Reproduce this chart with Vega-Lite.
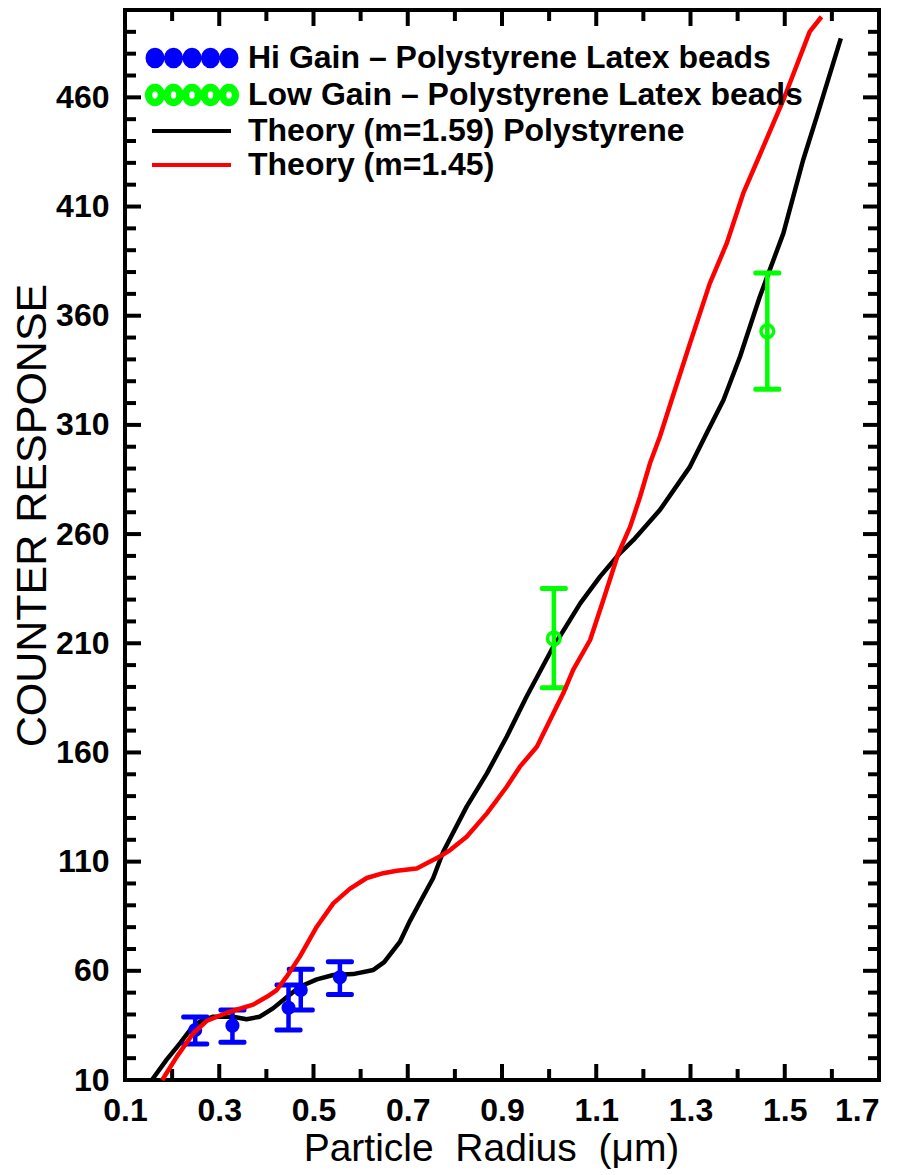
{
  "$schema": "https://vega.github.io/schema/vega-lite/v6.json",
  "width": 754,
  "height": 1070,
  "autosize": {"type": "none"},
  "padding": {"left": 125, "top": 10, "right": 20, "bottom": 95},
  "background": "white",
  "config": {
    "view": {"stroke": "#000000", "strokeWidth": 4},
    "axis": {"domain": false, "grid": false, "ticks": false, "tickSize": 0, "labelFont": "Liberation Sans", "titleFont": "Liberation Sans", "labelColor": "#000000", "titleColor": "#000000"}
  },
  "datasets": {
    "xmajor": [{"v": 0.1}, {"v": 0.3}, {"v": 0.5}, {"v": 0.7}, {"v": 0.9}, {"v": 1.1}, {"v": 1.3}, {"v": 1.5}, {"v": 1.7}],
    "xminor": [{"v": 0.2}, {"v": 0.4}, {"v": 0.6}, {"v": 0.8}, {"v": 1.0}, {"v": 1.2}, {"v": 1.4}, {"v": 1.6}],
    "ymajor": [{"v": 10}, {"v": 60}, {"v": 110}, {"v": 160}, {"v": 210}, {"v": 260}, {"v": 310}, {"v": 360}, {"v": 410}, {"v": 460}],
    "yminor": [{"v": 20}, {"v": 30}, {"v": 40}, {"v": 50}, {"v": 70}, {"v": 80}, {"v": 90}, {"v": 100}, {"v": 120}, {"v": 130}, {"v": 140}, {"v": 150}, {"v": 170}, {"v": 180}, {"v": 190}, {"v": 200}, {"v": 220}, {"v": 230}, {"v": 240}, {"v": 250}, {"v": 270}, {"v": 280}, {"v": 290}, {"v": 300}, {"v": 320}, {"v": 330}, {"v": 340}, {"v": 350}, {"v": 370}, {"v": 380}, {"v": 390}, {"v": 400}, {"v": 420}, {"v": 430}, {"v": 440}, {"v": 450}, {"v": 470}, {"v": 480}, {"v": 490}],
    "black": [
      {"radius": 0.157, "response": 10.0, "series": "Theory (m=1.59) Polystyrene"},
      {"radius": 0.188, "response": 19.2, "series": "Theory (m=1.59) Polystyrene"},
      {"radius": 0.217, "response": 26.9, "series": "Theory (m=1.59) Polystyrene"},
      {"radius": 0.238, "response": 32.9, "series": "Theory (m=1.59) Polystyrene"},
      {"radius": 0.259, "response": 36.7, "series": "Theory (m=1.59) Polystyrene"},
      {"radius": 0.287, "response": 39.0, "series": "Theory (m=1.59) Polystyrene"},
      {"radius": 0.329, "response": 39.0, "series": "Theory (m=1.59) Polystyrene"},
      {"radius": 0.358, "response": 37.8, "series": "Theory (m=1.59) Polystyrene"},
      {"radius": 0.386, "response": 39.0, "series": "Theory (m=1.59) Polystyrene"},
      {"radius": 0.414, "response": 42.8, "series": "Theory (m=1.59) Polystyrene"},
      {"radius": 0.443, "response": 47.9, "series": "Theory (m=1.59) Polystyrene"},
      {"radius": 0.471, "response": 52.7, "series": "Theory (m=1.59) Polystyrene"},
      {"radius": 0.507, "response": 56.1, "series": "Theory (m=1.59) Polystyrene"},
      {"radius": 0.542, "response": 58.1, "series": "Theory (m=1.59) Polystyrene"},
      {"radius": 0.584, "response": 58.5, "series": "Theory (m=1.59) Polystyrene"},
      {"radius": 0.627, "response": 60.4, "series": "Theory (m=1.59) Polystyrene"},
      {"radius": 0.650, "response": 64.0, "series": "Theory (m=1.59) Polystyrene"},
      {"radius": 0.684, "response": 73.5, "series": "Theory (m=1.59) Polystyrene"},
      {"radius": 0.705, "response": 83.0, "series": "Theory (m=1.59) Polystyrene"},
      {"radius": 0.730, "response": 93.0, "series": "Theory (m=1.59) Polystyrene"},
      {"radius": 0.754, "response": 102.5, "series": "Theory (m=1.59) Polystyrene"},
      {"radius": 0.775, "response": 114.4, "series": "Theory (m=1.59) Polystyrene"},
      {"radius": 0.825, "response": 135.2, "series": "Theory (m=1.59) Polystyrene"},
      {"radius": 0.868, "response": 150.4, "series": "Theory (m=1.59) Polystyrene"},
      {"radius": 0.910, "response": 167.2, "series": "Theory (m=1.59) Polystyrene"},
      {"radius": 0.952, "response": 185.5, "series": "Theory (m=1.59) Polystyrene"},
      {"radius": 1.005, "response": 206.9, "series": "Theory (m=1.59) Polystyrene"},
      {"radius": 1.066, "response": 228.3, "series": "Theory (m=1.59) Polystyrene"},
      {"radius": 1.108, "response": 240.5, "series": "Theory (m=1.59) Polystyrene"},
      {"radius": 1.150, "response": 251.2, "series": "Theory (m=1.59) Polystyrene"},
      {"radius": 1.179, "response": 257.3, "series": "Theory (m=1.59) Polystyrene"},
      {"radius": 1.235, "response": 271.0, "series": "Theory (m=1.59) Polystyrene"},
      {"radius": 1.299, "response": 290.9, "series": "Theory (m=1.59) Polystyrene"},
      {"radius": 1.334, "response": 306.1, "series": "Theory (m=1.59) Polystyrene"},
      {"radius": 1.370, "response": 321.4, "series": "Theory (m=1.59) Polystyrene"},
      {"radius": 1.405, "response": 341.2, "series": "Theory (m=1.59) Polystyrene"},
      {"radius": 1.447, "response": 368.7, "series": "Theory (m=1.59) Polystyrene"},
      {"radius": 1.497, "response": 397.7, "series": "Theory (m=1.59) Polystyrene"},
      {"radius": 1.539, "response": 431.3, "series": "Theory (m=1.59) Polystyrene"},
      {"radius": 1.568, "response": 451.2, "series": "Theory (m=1.59) Polystyrene"},
      {"radius": 1.619, "response": 487.0, "series": "Theory (m=1.59) Polystyrene"}
    ],
    "red": [
      {"radius": 0.179, "response": 10.0, "series": "Theory (m=1.45)"},
      {"radius": 0.210, "response": 20.7, "series": "Theory (m=1.45)"},
      {"radius": 0.245, "response": 31.4, "series": "Theory (m=1.45)"},
      {"radius": 0.273, "response": 37.0, "series": "Theory (m=1.45)"},
      {"radius": 0.316, "response": 40.8, "series": "Theory (m=1.45)"},
      {"radius": 0.372, "response": 44.5, "series": "Theory (m=1.45)"},
      {"radius": 0.401, "response": 48.1, "series": "Theory (m=1.45)"},
      {"radius": 0.422, "response": 51.2, "series": "Theory (m=1.45)"},
      {"radius": 0.443, "response": 57.3, "series": "Theory (m=1.45)"},
      {"radius": 0.471, "response": 66.5, "series": "Theory (m=1.45)"},
      {"radius": 0.507, "response": 80.2, "series": "Theory (m=1.45)"},
      {"radius": 0.542, "response": 90.9, "series": "Theory (m=1.45)"},
      {"radius": 0.577, "response": 97.5, "series": "Theory (m=1.45)"},
      {"radius": 0.613, "response": 102.5, "series": "Theory (m=1.45)"},
      {"radius": 0.648, "response": 104.7, "series": "Theory (m=1.45)"},
      {"radius": 0.677, "response": 105.8, "series": "Theory (m=1.45)"},
      {"radius": 0.719, "response": 106.9, "series": "Theory (m=1.45)"},
      {"radius": 0.768, "response": 112.3, "series": "Theory (m=1.45)"},
      {"radius": 0.790, "response": 115.3, "series": "Theory (m=1.45)"},
      {"radius": 0.825, "response": 121.4, "series": "Theory (m=1.45)"},
      {"radius": 0.868, "response": 132.1, "series": "Theory (m=1.45)"},
      {"radius": 0.910, "response": 144.3, "series": "Theory (m=1.45)"},
      {"radius": 0.938, "response": 153.5, "series": "Theory (m=1.45)"},
      {"radius": 0.974, "response": 162.6, "series": "Theory (m=1.45)"},
      {"radius": 1.009, "response": 177.9, "series": "Theory (m=1.45)"},
      {"radius": 1.030, "response": 187.1, "series": "Theory (m=1.45)"},
      {"radius": 1.051, "response": 197.8, "series": "Theory (m=1.45)"},
      {"radius": 1.087, "response": 211.5, "series": "Theory (m=1.45)"},
      {"radius": 1.115, "response": 229.8, "series": "Theory (m=1.45)"},
      {"radius": 1.147, "response": 251.2, "series": "Theory (m=1.45)"},
      {"radius": 1.172, "response": 263.4, "series": "Theory (m=1.45)"},
      {"radius": 1.193, "response": 277.1, "series": "Theory (m=1.45)"},
      {"radius": 1.214, "response": 292.4, "series": "Theory (m=1.45)"},
      {"radius": 1.235, "response": 304.6, "series": "Theory (m=1.45)"},
      {"radius": 1.260, "response": 321.4, "series": "Theory (m=1.45)"},
      {"radius": 1.299, "response": 347.4, "series": "Theory (m=1.45)"},
      {"radius": 1.341, "response": 374.8, "series": "Theory (m=1.45)"},
      {"radius": 1.377, "response": 393.2, "series": "Theory (m=1.45)"},
      {"radius": 1.412, "response": 416.1, "series": "Theory (m=1.45)"},
      {"radius": 1.447, "response": 433.6, "series": "Theory (m=1.45)"},
      {"radius": 1.497, "response": 458.8, "series": "Theory (m=1.45)"},
      {"radius": 1.553, "response": 490.1, "series": "Theory (m=1.45)"},
      {"radius": 1.578, "response": 496.9, "series": "Theory (m=1.45)"}
    ],
    "obs": [
      {"radius": 0.249, "response": 32.9, "lo": 26.5, "hi": 38.8, "gain": "Hi", "series": "Hi Gain – Polystyrene Latex beads"},
      {"radius": 0.328, "response": 34.9, "lo": 27.3, "hi": 42.0, "gain": "Hi", "series": "Hi Gain – Polystyrene Latex beads"},
      {"radius": 0.447, "response": 43.1, "lo": 32.9, "hi": 53.5, "gain": "Hi", "series": "Hi Gain – Polystyrene Latex beads"},
      {"radius": 0.473, "response": 51.2, "lo": 42.0, "hi": 60.7, "gain": "Hi", "series": "Hi Gain – Polystyrene Latex beads"},
      {"radius": 0.556, "response": 57.0, "lo": 49.2, "hi": 64.2, "gain": "Hi", "series": "Hi Gain – Polystyrene Latex beads"},
      {"radius": 1.010, "response": 212.2, "lo": 189.6, "hi": 235.1, "gain": "Low", "series": "Low Gain – Polystyrene Latex beads"},
      {"radius": 1.463, "response": 352.9, "lo": 326.3, "hi": 379.6, "gain": "Low", "series": "Low Gain – Polystyrene Latex beads"}
    ]
  },
  "layer": [
    {
      "data": {"name": "black"},
      "mark": {"type": "line", "strokeWidth": 4.5, "strokeJoin": "round"},
      "encoding": {
        "x": {"field": "radius", "type": "quantitative",
          "scale": {"domain": [0.1, 1.7], "nice": false, "zero": false},
          "axis": {"orient": "bottom", "values": [0.1, 0.3, 0.5, 0.7, 0.9, 1.1, 1.3, 1.5, 1.7], "format": ".1f", "labelPadding": 15, "labelFontSize": 32, "labelFontWeight": "bold", "labelFlush": false, "labelOverlap": false, "labelAlign": {"condition": {"test": "datum.value > 1.65", "value": "right"}, "value": "center"}, "title": "Particle\u00a0\u00a0Radius\u00a0\u00a0(μm)", "titleFontSize": 39, "titleFontWeight": "normal", "titleX": 366, "titleY": 80, "titleBaseline": "alphabetic"}},
        "y": {"field": "response", "type": "quantitative",
          "scale": {"domain": [10, 500], "nice": false, "zero": false},
          "axis": {"orient": "left", "values": [10, 60, 110, 160, 210, 260, 310, 360, 410, 460], "format": "d", "labelPadding": 16, "labelFontSize": 32, "labelFontWeight": "bold", "labelOverlap": false, "title": "COUNTER RESPONSE", "titleFontSize": 43, "titleFontWeight": "normal", "titleX": -80, "titleY": 505, "titleBaseline": "alphabetic"}},
        "color": {"field": "series", "type": "nominal",
          "scale": {"domain": ["Hi Gain – Polystyrene Latex beads", "Low Gain – Polystyrene Latex beads", "Theory (m=1.59) Polystyrene", "Theory (m=1.45)"], "range": ["#0000ff", "#00ff00", "#000000", "#ff0000"]},
          "legend": {"orient": "none", "legendX": 16, "legendY": 32, "title": null, "symbolSize": 400, "symbolOffset": 0, "symbolStrokeWidth": 4, "labelFont": "Liberation Sans", "labelFontSize": 32, "labelFontWeight": "bold", "labelColor": "#000000", "labelLimit": 800, "labelOffset": 75, "rowPadding": 2,
            "encode": {"symbols": {"update": {
              "shape": {"signal": "['M-0.95,0A0.75,0.83 0 1 1 0.55,0A0.75,0.83 0 1 1 -0.95,0Z M0.9,0A0.75,0.83 0 1 1 2.4,0A0.75,0.83 0 1 1 0.9,0Z M2.75,0A0.75,0.83 0 1 1 4.25,0A0.75,0.83 0 1 1 2.75,0Z M4.6,0A0.75,0.83 0 1 1 6.1,0A0.75,0.83 0 1 1 4.6,0Z M6.45,0A0.75,0.83 0 1 1 7.95,0A0.75,0.83 0 1 1 6.45,0Z', 'M-1.02,0A0.82,0.92 0 1 1 0.62,0A0.82,0.92 0 1 1 -1.02,0Z M-0.67,0A0.47,0.57 0 1 0 0.27,0A0.47,0.57 0 1 0 -0.67,0Z M0.83,0A0.82,0.92 0 1 1 2.47,0A0.82,0.92 0 1 1 0.83,0Z M1.18,0A0.47,0.57 0 1 0 2.12,0A0.47,0.57 0 1 0 1.18,0Z M2.68,0A0.82,0.92 0 1 1 4.32,0A0.82,0.92 0 1 1 2.68,0Z M3.03,0A0.47,0.57 0 1 0 3.97,0A0.47,0.57 0 1 0 3.03,0Z M4.53,0A0.82,0.92 0 1 1 6.17,0A0.82,0.92 0 1 1 4.53,0Z M4.88,0A0.47,0.57 0 1 0 5.82,0A0.47,0.57 0 1 0 4.88,0Z M6.38,0A0.82,0.92 0 1 1 8.02,0A0.82,0.92 0 1 1 6.38,0Z M6.73,0A0.47,0.57 0 1 0 7.67,0A0.47,0.57 0 1 0 6.73,0Z', 'M-0.5,0L7.4,0', 'M-0.5,0L7.4,0'][datum.index]"},
              "fill": {"signal": "['#0000ff', '#00ff00', 'transparent', 'transparent'][datum.index]"},
              "stroke": {"signal": "['transparent', 'transparent', '#000000', '#ff0000'][datum.index]"},
              "strokeWidth": {"value": 4},
              "size": {"value": 400},
              "opacity": {"value": 1}
            }}}}
        }
      }
    },
    {
      "data": {"name": "xmajor"},
      "mark": {"type": "tick", "orient": "vertical", "size": 16, "thickness": 4, "yOffset": -8, "color": "#000000", "opacity": 1},
      "encoding": {"x": {"field": "v", "type": "quantitative"}, "y": {"datum": 10, "type": "quantitative"}}
    },
    {
      "data": {"name": "xmajor"},
      "mark": {"type": "tick", "orient": "vertical", "size": 16, "thickness": 4, "yOffset": 8, "color": "#000000", "opacity": 1},
      "encoding": {"x": {"field": "v", "type": "quantitative"}, "y": {"datum": 500, "type": "quantitative"}}
    },
    {
      "data": {"name": "xminor"},
      "mark": {"type": "tick", "orient": "vertical", "size": 11, "thickness": 4, "yOffset": -5.5, "color": "#000000", "opacity": 1},
      "encoding": {"x": {"field": "v", "type": "quantitative"}, "y": {"datum": 10, "type": "quantitative"}}
    },
    {
      "data": {"name": "xminor"},
      "mark": {"type": "tick", "orient": "vertical", "size": 11, "thickness": 4, "yOffset": 5.5, "color": "#000000", "opacity": 1},
      "encoding": {"x": {"field": "v", "type": "quantitative"}, "y": {"datum": 500, "type": "quantitative"}}
    },
    {
      "data": {"name": "ymajor"},
      "mark": {"type": "tick", "orient": "horizontal", "size": 16, "thickness": 4, "xOffset": 8, "color": "#000000", "opacity": 1},
      "encoding": {"y": {"field": "v", "type": "quantitative"}, "x": {"datum": 0.1, "type": "quantitative"}}
    },
    {
      "data": {"name": "ymajor"},
      "mark": {"type": "tick", "orient": "horizontal", "size": 16, "thickness": 4, "xOffset": -8, "color": "#000000", "opacity": 1},
      "encoding": {"y": {"field": "v", "type": "quantitative"}, "x": {"datum": 1.7, "type": "quantitative"}}
    },
    {
      "data": {"name": "yminor"},
      "mark": {"type": "tick", "orient": "horizontal", "size": 11, "thickness": 4, "xOffset": 5.5, "color": "#000000", "opacity": 1},
      "encoding": {"y": {"field": "v", "type": "quantitative"}, "x": {"datum": 0.1, "type": "quantitative"}}
    },
    {
      "data": {"name": "yminor"},
      "mark": {"type": "tick", "orient": "horizontal", "size": 11, "thickness": 4, "xOffset": -5.5, "color": "#000000", "opacity": 1},
      "encoding": {"y": {"field": "v", "type": "quantitative"}, "x": {"datum": 1.7, "type": "quantitative"}}
    },
    {
      "data": {"name": "obs"},
      "mark": {"type": "rule", "strokeWidth": 4.5},
      "encoding": {
        "x": {"field": "radius", "type": "quantitative"},
        "y": {"field": "lo", "type": "quantitative"},
        "y2": {"field": "hi"},
        "color": {"field": "series", "type": "nominal", "legend": null}
      }
    },
    {
      "data": {"name": "obs"},
      "mark": {"type": "tick", "orient": "horizontal", "size": 28, "thickness": 5, "opacity": 1, "cornerRadius": 2},
      "encoding": {
        "x": {"field": "radius", "type": "quantitative"},
        "y": {"field": "lo", "type": "quantitative"},
        "color": {"field": "series", "type": "nominal", "legend": null}
      }
    },
    {
      "data": {"name": "obs"},
      "mark": {"type": "tick", "orient": "horizontal", "size": 28, "thickness": 5, "opacity": 1, "cornerRadius": 2},
      "encoding": {
        "x": {"field": "radius", "type": "quantitative"},
        "y": {"field": "hi", "type": "quantitative"},
        "color": {"field": "series", "type": "nominal", "legend": null}
      }
    },
    {
      "data": {"name": "obs"},
      "transform": [{"filter": {"field": "gain", "equal": "Hi"}}],
      "mark": {"type": "point", "shape": "circle", "filled": true, "size": 200, "opacity": 1},
      "encoding": {
        "x": {"field": "radius", "type": "quantitative"},
        "y": {"field": "response", "type": "quantitative"},
        "color": {"field": "series", "type": "nominal", "legend": null}
      }
    },
    {
      "data": {"name": "obs"},
      "transform": [{"filter": {"field": "gain", "equal": "Low"}}],
      "mark": {"type": "point", "shape": "circle", "filled": false, "size": 160, "strokeWidth": 3.5, "opacity": 1, "fill": "white", "fillOpacity": 0},
      "encoding": {
        "x": {"field": "radius", "type": "quantitative"},
        "y": {"field": "response", "type": "quantitative"},
        "color": {"field": "series", "type": "nominal", "legend": null}
      }
    },
    {
      "data": {"name": "red"},
      "mark": {"type": "line", "strokeWidth": 4.5, "strokeJoin": "round"},
      "encoding": {
        "x": {"field": "radius", "type": "quantitative"},
        "y": {"field": "response", "type": "quantitative"},
        "color": {"field": "series", "type": "nominal", "legend": null}
      }
    }
  ]
}
